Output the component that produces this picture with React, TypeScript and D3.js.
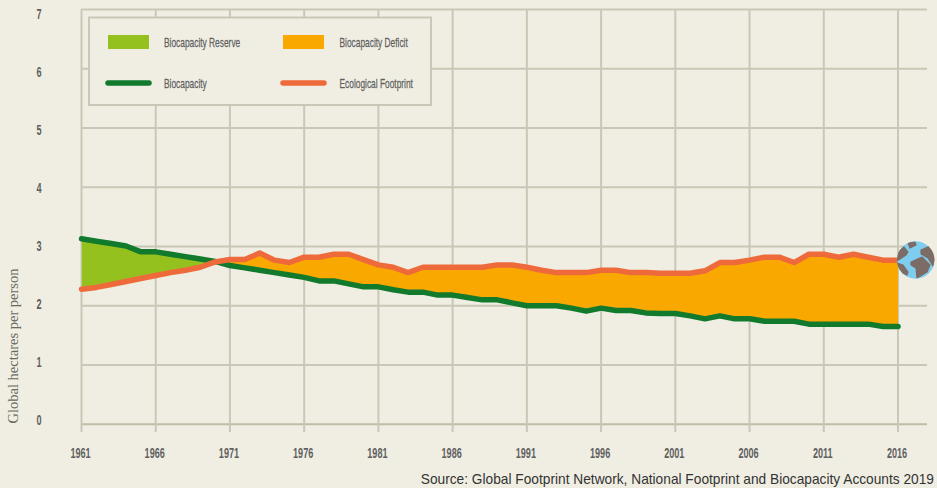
import React from "react";
import * as d3 from "d3";

const years = d3.range(1961, 2017);
const biocapacity = [3.13,3.09,3.05,3.01,2.91,2.91,2.87,2.83,2.79,2.75,2.68,2.64,2.60,2.56,2.52,2.48,2.42,2.42,2.37,2.32,2.32,2.27,2.23,2.23,2.18,2.18,2.14,2.10,2.10,2.05,2.00,2.00,2.00,1.96,1.91,1.96,1.92,1.92,1.88,1.87,1.87,1.83,1.78,1.83,1.78,1.78,1.74,1.74,1.74,1.69,1.69,1.69,1.69,1.69,1.65,1.65];
const footprint = [2.28,2.31,2.36,2.41,2.46,2.51,2.56,2.60,2.65,2.74,2.78,2.78,2.89,2.77,2.73,2.82,2.82,2.87,2.87,2.78,2.69,2.65,2.56,2.65,2.65,2.65,2.65,2.65,2.69,2.69,2.65,2.60,2.56,2.56,2.56,2.60,2.60,2.56,2.56,2.55,2.55,2.55,2.59,2.73,2.73,2.77,2.82,2.82,2.73,2.87,2.87,2.82,2.87,2.82,2.77,2.77];
const yTicks = [0,1,2,3,4,5,6,7];
const xTicks = d3.range(1961, 2017, 5);
const legendItems = [
  { label: "Biocapacity Reserve", kind: "rect", color: "#95c11f" },
  { label: "Biocapacity Deficit", kind: "rect", color: "#f9a800" },
  { label: "Biocapacity", kind: "line", color: "#117a2c" },
  { label: "Ecological Footprint", kind: "line", color: "#ee6a3a" },
];
const SOURCE = "Source: Global Footprint Network, National Footprint and Biocapacity Accounts 2019";
const YLABEL = "Global hectares per person";

const BG = "#f0eee3";
const GRID = "#c9c7b5";
const TXT = "#5f5f5f";
const NARROW = "'Liberation Sans Narrow','Liberation Sans',sans-serif";

export default function App() {
  const x = d3.scaleLinear().domain([1961, 2016]).range([81.5, 898]);
  const y = d3.scaleLinear().domain([0, 7]).range([424.3, 9.5]);
  const yLabel = d3.scaleLinear().domain([0, 7]).range([425, 19]);
  const top = y(7);
  const bottom = y(0);
  const pts = years.map((yr, i) => ({ yr, b: biocapacity[i], f: footprint[i] }));

  const lineB = d3.line<any>().x(d => x(d.yr)).y(d => y(d.b));
  const lineF = d3.line<any>().x(d => x(d.yr)).y(d => y(d.f));
  const aboveF = d3.area<any>().x(d => x(d.yr)).y0(top).y1(d => y(d.f));
  const aboveB = d3.area<any>().x(d => x(d.yr)).y0(top).y1(d => y(d.b));
  const belowB = d3.area<any>().x(d => x(d.yr)).y0(bottom).y1(d => y(d.b));
  const belowF = d3.area<any>().x(d => x(d.yr)).y0(bottom).y1(d => y(d.f));

  const legendPos = [
    { sx: 108, lx: 164, y: 42 },
    { sx: 283, lx: 339.5, y: 42 },
    { sx: 108, lx: 164, y: 83 },
    { sx: 283, lx: 339.5, y: 83 },
  ];

  return (
    <svg width={937} height={488} style={{ position: "absolute", left: 0, top: 0, background: BG }}>
      <rect width={937} height={488} fill={BG} />
      <defs>
        <clipPath id="clipAboveF"><path d={aboveF(pts)!} /></clipPath>
        <clipPath id="clipAboveB"><path d={aboveB(pts)!} /></clipPath>
        <clipPath id="globeClip"><circle cx={915.7} cy={260} r={18.7} /></clipPath>
      </defs>

      {yTicks.map(t => (
        <g key={t}>
          <line x1={81} x2={927} y1={y(t)} y2={y(t)} stroke={t === 0 ? "#bfbda6" : GRID} strokeWidth={2} />
          <text x={0} y={yLabel(t)} textAnchor="middle" fontFamily={NARROW} fontWeight={700} fontSize={14} fill={TXT} transform="translate(39 0) scale(0.65 1)">{t}</text>
        </g>
      ))}
      {xTicks.map(t => (
        <g key={t}>
          <line x1={x(t)} x2={x(t)} y1={top} y2={432} stroke={GRID} strokeWidth={2} />
          <text x={0} y={458} textAnchor="middle" fontFamily={NARROW} fontWeight={700} fontSize={14} fill={TXT} transform={`translate(${x(t) - 1} 0) scale(0.65 1)`}>{t}</text>
        </g>
      ))}

      <path d={belowB(pts)!} fill="#95c11f" clipPath="url(#clipAboveF)" />
      <path d={belowF(pts)!} fill="#f9a800" clipPath="url(#clipAboveB)" />
      <path d={lineB(pts)!} fill="none" stroke="#117a2c" strokeWidth={5.5} strokeLinecap="round" strokeLinejoin="round" />
      <path d={lineF(pts)!} fill="none" stroke="#ee6a3a" strokeWidth={5.5} strokeLinecap="round" strokeLinejoin="round" />

      <rect x={89} y={17.5} width={342} height={87.5} fill={BG} stroke={GRID} strokeWidth={2} />
      {legendItems.map((it, i) => {
        const p = legendPos[i];
        return (
          <g key={it.label}>
            {it.kind === "rect"
              ? <rect x={p.sx} y={p.y - 7} width={41} height={14} fill={it.color} />
              : <line x1={p.sx} x2={p.sx + 41} y1={p.y} y2={p.y} stroke={it.color} strokeWidth={5.5} strokeLinecap="round" />}
            <text x={0} y={p.y + 5.5} fontFamily={NARROW} fontWeight={400} fontSize={13.5} fill={TXT} stroke={TXT} strokeWidth={0.25} transform={`translate(${p.lx} 0) scale(0.62 1)`}>{it.label}</text>
          </g>
        );
      })}

      <text transform="translate(18 346) rotate(-90)" textAnchor="middle" fontFamily="'Liberation Serif',serif" fontSize={14.5} fill="#6a6a62">{YLABEL}</text>
      <text x={934} y={483.5} textAnchor="end" fontFamily="'Liberation Sans',Arial,sans-serif" fontSize={13.72} fill="#333">{SOURCE}</text>

      <circle cx={915.7} cy={260} r={18.7} fill="#7fcdee" />
      <g clipPath="url(#globeClip)" fill="#7d6b66" stroke="#7d6b66" strokeWidth={1.2} strokeLinejoin="round">
        <path d="M896 254 L904 247 L908 252 L906 255 L900 259 L896 261 Z" />
        <path d="M897 263 L903 265 L908 272 L907 275 L902 273 L896 268 Z" />
        <path d="M908 243 L915 242 L916 245 L910 248 Z" />
        <path d="M921 250 L930 246 L936 255 L933 266 L928 258 L921 254 Z" />
        <path d="M911 262 L922 257 L928 263 L930 265 L927 272 L922 275 L917 278 L916 268 L911 265 Z" />
      </g>
    </svg>
  );
}
